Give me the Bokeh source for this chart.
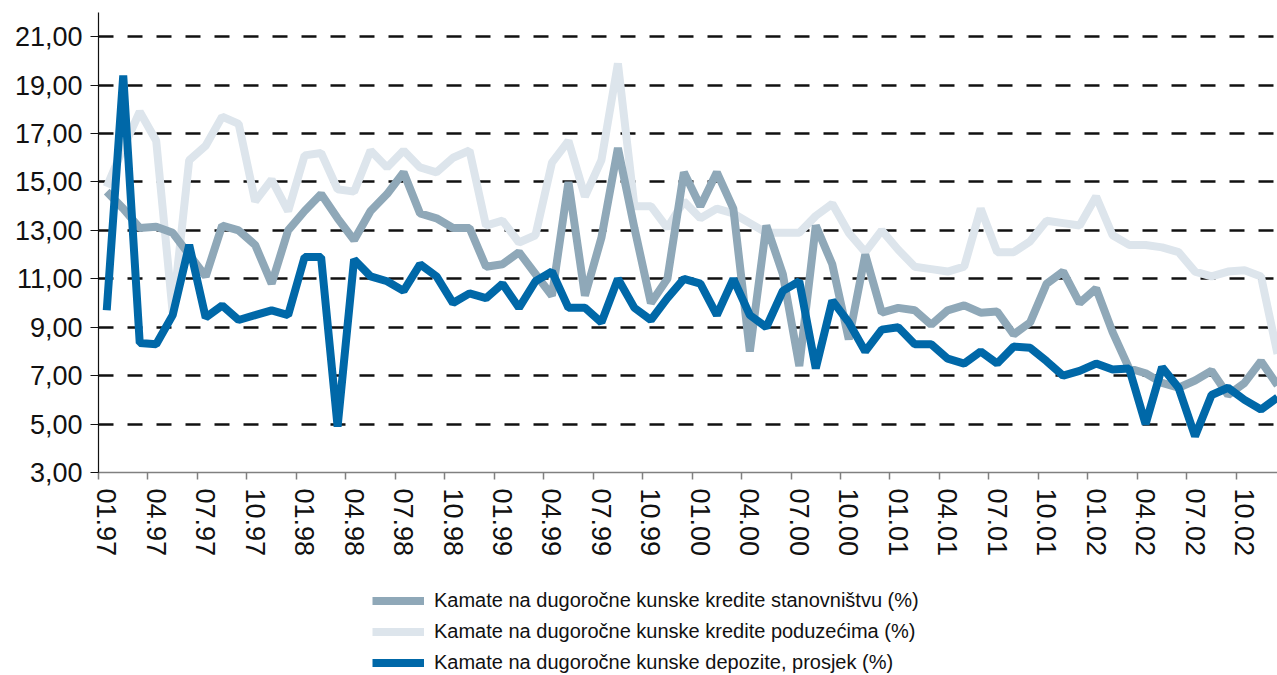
from bokeh.plotting import figure
from bokeh.models import Range1d, FixedTicker, Legend, LegendItem
from bokeh.layouts import column
from bokeh.embed import file_html
from bokeh.resources import INLINE

# monthly observations 01.97 .. 12.02
months = list(range(72))

tick_labels = ["01.97", "04.97", "07.97", "10.97", "01.98", "04.98", "07.98", "10.98",
               "01.99", "04.99", "07.99", "10.99", "01.00", "04.00", "07.00", "10.00",
               "01.01", "04.01", "07.01", "10.01", "01.02", "04.02", "07.02", "10.02"]
y_ticks = [3, 5, 7, 9, 11, 13, 15, 17, 19, 21]

stanovnistvo = [14.6, 13.9, 13.1, 13.15, 12.9, 12.0, 11.1, 13.2, 13.0, 12.4, 10.8, 13.0,
                13.8, 14.5, 13.5, 12.6, 13.8, 14.5, 15.4, 13.7, 13.5, 13.1, 13.1, 11.5,
                11.6, 12.1, 11.2, 10.3, 15.0, 10.3, 12.7, 16.4, 13.1, 10.0, 11.0, 15.4,
                14.0, 15.4, 13.9, 8.0, 13.2, 11.2, 7.4, 13.2, 11.6, 8.5, 12.0, 9.6,
                9.8, 9.7, 9.1, 9.7, 9.9, 9.6, 9.65, 8.7, 9.2, 10.8, 11.3, 10.0,
                10.6, 8.8, 7.3, 7.1, 6.7, 6.5, 6.8, 7.2, 6.2, 6.7, 7.6, 6.6]

poduzeca = [14.8, 16.4, 17.9, 16.7, 9.6, 15.9, 16.5, 17.7, 17.4, 14.2, 15.1, 13.8,
            16.1, 16.2, 14.7, 14.6, 16.3, 15.6, 16.3, 15.6, 15.4, 16.0, 16.3, 13.2,
            13.4, 12.5, 12.8, 15.8, 16.7, 14.4, 15.9, 19.9, 14.0, 14.0, 13.1, 14.2,
            13.5, 13.9, 13.7, 13.3, 12.9, 12.9, 12.9, 13.6, 14.1, 12.9, 12.1, 13.0,
            12.2, 11.5, 11.4, 11.3, 11.5, 13.9, 12.1, 12.1, 12.55, 13.4, 13.3, 13.2,
            14.4, 12.8, 12.4, 12.4, 12.3, 12.1, 11.3, 11.1, 11.3, 11.35, 11.1, 7.9]

depoziti = [9.7, 19.4, 8.35, 8.3, 9.5, 12.4, 9.4, 9.9, 9.3, 9.5, 9.7, 9.5,
            11.9, 11.9, 4.9, 11.8, 11.1, 10.9, 10.5, 11.6, 11.1, 10.0, 10.4, 10.2,
            10.8, 9.8, 10.9, 11.3, 9.8, 9.8, 9.2, 11.0, 9.8, 9.3, 10.2, 11.0,
            10.8, 9.5, 11.0, 9.5, 9.0, 10.5, 10.9, 7.3, 10.1, 9.2, 8.0, 8.9,
            9.0, 8.3, 8.3, 7.7, 7.5, 8.0, 7.5, 8.2, 8.15, 7.6, 7.0, 7.2,
            7.5, 7.25, 7.3, 5.0, 7.35, 6.5, 4.5, 6.2, 6.5, 6.0, 5.6, 6.1]

series_names = ["Kamate na dugoročne kunske kredite stanovništvu (%)",
                "Kamate na dugoročne kunske kredite poduzećima (%)",
                "Kamate na dugoročne kunske depozite, prosjek (%)"]

C_MID = "#8FA8B8"
C_LIGHT = "#DDE5EC"
C_BLUE = "#0068A8"
FONT = "Liberation Sans"

p = figure(width=1277, height=560, output_backend="svg", toolbar_location=None,
           x_range=Range1d(-0.5, 71.0), y_range=Range1d(3, 22),
           min_border_left=98, min_border_right=0, min_border_top=12,
           min_border_bottom=88)
p.outline_line_color = None
p.background_fill_color = "white"
p.border_fill_color = "white"

# grid
p.xgrid.visible = False
p.ygrid.ticker = FixedTicker(ticks=y_ticks[1:])
p.ygrid.grid_line_color = "#111111"
p.ygrid.grid_line_width = 2.5
p.ygrid.grid_line_dash = "15 14"

# x axis
label_pos = [3 * k for k in range(len(tick_labels))]
p.xaxis.ticker = FixedTicker(ticks=label_pos,
                             minor_ticks=[v - 0.5 for v in label_pos] + [71.5])
p.xaxis.major_label_overrides = {v: t for v, t in zip(label_pos, tick_labels)}
p.xaxis.major_label_orientation = "vertical"
p.xaxis.major_tick_line_color = None
p.xaxis.major_tick_out = 0
p.xaxis.major_tick_in = 0
p.xaxis.minor_tick_out = 7
p.xaxis.minor_tick_in = 0
p.xaxis.minor_tick_line_color = "#808080"
p.xaxis.minor_tick_line_width = 1.5
p.xaxis.axis_line_color = "#808080"
p.xaxis.axis_line_width = 1.5
p.xaxis.major_label_standoff = 9
p.xaxis.major_label_text_font = FONT
p.xaxis.major_label_text_font_size = "27px"
p.xaxis.major_label_text_color = "#111111"

# y axis
p.yaxis.ticker = FixedTicker(ticks=y_ticks)
p.yaxis.major_label_overrides = {v: f"{v},00" for v in y_ticks}
p.yaxis.major_tick_out = 8
p.yaxis.major_tick_in = 0
p.yaxis.minor_tick_line_color = None
p.yaxis.axis_line_color = "#111111"
p.yaxis.axis_line_width = 1.2
p.yaxis.major_tick_line_color = "#111111"
p.yaxis.major_tick_line_width = 1.2
p.yaxis.major_label_standoff = 8
p.yaxis.major_label_text_font = FONT
p.yaxis.major_label_text_font_size = "27px"
p.yaxis.major_label_text_color = "#111111"

p.line(months, poduzeca, line_color=C_LIGHT, line_width=8, line_join="bevel")
p.line(months, stanovnistvo, line_color=C_MID, line_width=8, line_join="bevel")
p.line(months, depoziti, line_color=C_BLUE, line_width=8, line_join="bevel")

# legend strip below the chart (its series lie outside this strip's ranges,
# so only the legend itself is visible here)
lg = figure(width=1277, height=115, output_backend="svg", toolbar_location=None,
            x_range=Range1d(100, 101), y_range=Range1d(100, 101),
            x_axis_location=None, y_axis_location=None, min_border=0)
lg.outline_line_color = None
lg.grid.visible = False
lg_mid = lg.line(months, stanovnistvo, line_color=C_MID, line_width=8)
lg_light = lg.line(months, poduzeca, line_color=C_LIGHT, line_width=8)
lg_blue = lg.line(months, depoziti, line_color=C_BLUE, line_width=8)

legend = Legend(items=[LegendItem(label=series_names[0], renderers=[lg_mid]),
                       LegendItem(label=series_names[1], renderers=[lg_light]),
                       LegendItem(label=series_names[2], renderers=[lg_blue])],
                location=(274, 0), orientation="vertical",
                label_text_font=FONT, label_text_font_size="20px",
                label_text_color="#111111",
                glyph_width=52, glyph_height=25, label_height=25, spacing=6,
                label_standoff=10, padding=0, margin=0,
                border_line_color=None, background_fill_alpha=0)
lg.add_layout(legend)

layout = column(p, lg, spacing=0)
open("out.html", "w").write(file_html(layout, INLINE, title="Kamate"))
